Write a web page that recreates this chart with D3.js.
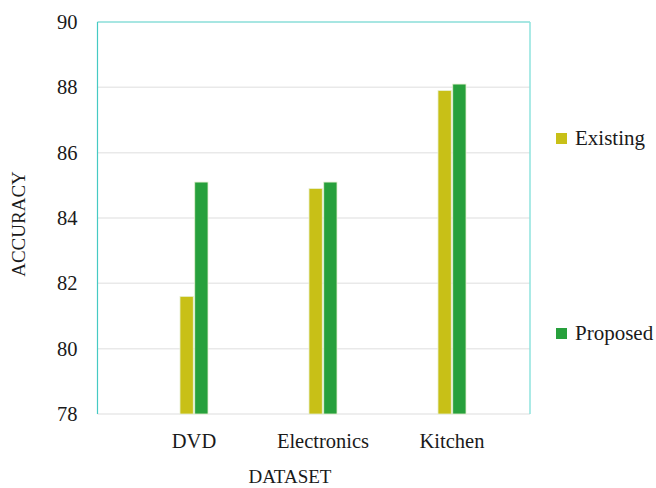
<!DOCTYPE html>
<html>
<head>
<meta charset="utf-8">
<script src="https://cdn.jsdelivr.net/npm/d3@7"></script>
<style>
  body { margin: 0; background: #fff; }
  svg text { font-family: "Liberation Serif", "DejaVu Serif", serif; fill: #1a1a1a; }
</style>
</head>
<body>
<svg width="656" height="488"></svg>
<script>
// chart data
const categories = ["DVD", "Electronics", "Kitchen"];
const seriesNames = ["Existing", "Proposed"];
const existing = [81.6, 84.9, 87.9];
const proposed = [85.1, 85.1, 88.1];
const yTicks = [78, 80, 82, 84, 86, 88, 90];
const colors = ["#c8c017", "#27a03c"];

const svg = d3.select("svg");
const plot = { left: 97.5, right: 530, top: 22, bottom: 414 };

const y = d3.scaleLinear().domain([78, 90]).range([plot.bottom, plot.top]);
// category bands sit a little inside the frame, like the original
const x0 = d3.scaleBand().domain(categories).range([129.5, 516.5]);
const x1 = d3.scaleBand().domain(seriesNames).range([-14, 14]).paddingInner(0.1);

// gridlines
svg.append("g")
    .selectAll("line")
    .data(yTicks)
    .enter()
    .append("line")
    .attr("x1", plot.left)
    .attr("x2", plot.right)
    .attr("y1", d => y(d))
    .attr("y2", d => y(d))
    .attr("stroke", "#e9e9e9")
    .attr("stroke-width", 1.5);

// frame (top / right / left in cyan)
svg.append("line")
    .attr("x1", plot.left).attr("x2", plot.right)
    .attr("y1", plot.top).attr("y2", plot.top)
    .attr("stroke", "#8fe3de").attr("stroke-width", 1.5);
svg.append("line")
    .attr("x1", plot.right).attr("x2", plot.right)
    .attr("y1", plot.top).attr("y2", plot.bottom)
    .attr("stroke", "#8fe3de").attr("stroke-width", 1.5);
svg.append("line")
    .attr("x1", plot.left).attr("x2", plot.left)
    .attr("y1", plot.top).attr("y2", plot.bottom)
    .attr("stroke", "#45cac4").attr("stroke-width", 1.2);

// y axis labels
const yAxis = d3.axisLeft(y).tickValues(yTicks).tickSize(0).tickPadding(20);
const yg = svg.append("g")
    .attr("transform", `translate(${plot.left},0)`)
    .call(yAxis);
yg.select(".domain").remove();
yg.selectAll("text")
    .attr("font-size", 20.5)
    .attr("font-family", null)
    .attr("fill", null);

// x axis labels
const xAxis = d3.axisBottom(x0).tickSize(0).tickPadding(19);
const xg = svg.append("g")
    .attr("transform", `translate(0,${plot.bottom})`)
    .call(xAxis);
xg.select(".domain").remove();
xg.selectAll("text")
    .attr("font-size", 20.5)
    .attr("font-family", null)
    .attr("fill", null);

// bars
const rows = categories.map((c, i) => ({ cat: c, vals: [existing[i], proposed[i]] }));
const groups = svg.append("g")
    .selectAll("g")
    .data(rows)
    .enter()
    .append("g")
    .attr("transform", d => `translate(${x0(d.cat) + x0.bandwidth() / 2},0)`);

groups.selectAll("rect")
    .data(d => d.vals.map((v, j) => ({ name: seriesNames[j], value: v, j })))
    .enter()
    .append("rect")
    .attr("x", d => x1(d.name))
    .attr("width", x1.bandwidth())
    .attr("y", d => y(d.value))
    .attr("height", d => y(78) - y(d.value))
    .attr("fill", d => colors[d.j])
    .attr("stroke", "#e6f0d0")
    .attr("stroke-width", 0.8);

// axis titles
svg.append("text")
    .attr("transform", "translate(25,224) rotate(-90)")
    .attr("text-anchor", "middle")
    .attr("font-size", 19)
    .text("ACCURACY");

svg.append("text")
    .attr("x", 290)
    .attr("y", 483)
    .attr("text-anchor", "middle")
    .attr("font-size", 19)
    .text("DATASET");

// legend
const legendY = [133, 328];
const legend = svg.append("g")
    .selectAll("g")
    .data(seriesNames)
    .enter()
    .append("g")
    .attr("transform", (d, i) => `translate(556,${legendY[i]})`);

legend.append("rect")
    .attr("width", 11)
    .attr("height", 11)
    .attr("fill", (d, i) => colors[i]);

legend.append("text")
    .attr("x", 19)
    .attr("y", 12)
    .attr("font-size", 21)
    .text(d => d);
</script>
</body>
</html>
